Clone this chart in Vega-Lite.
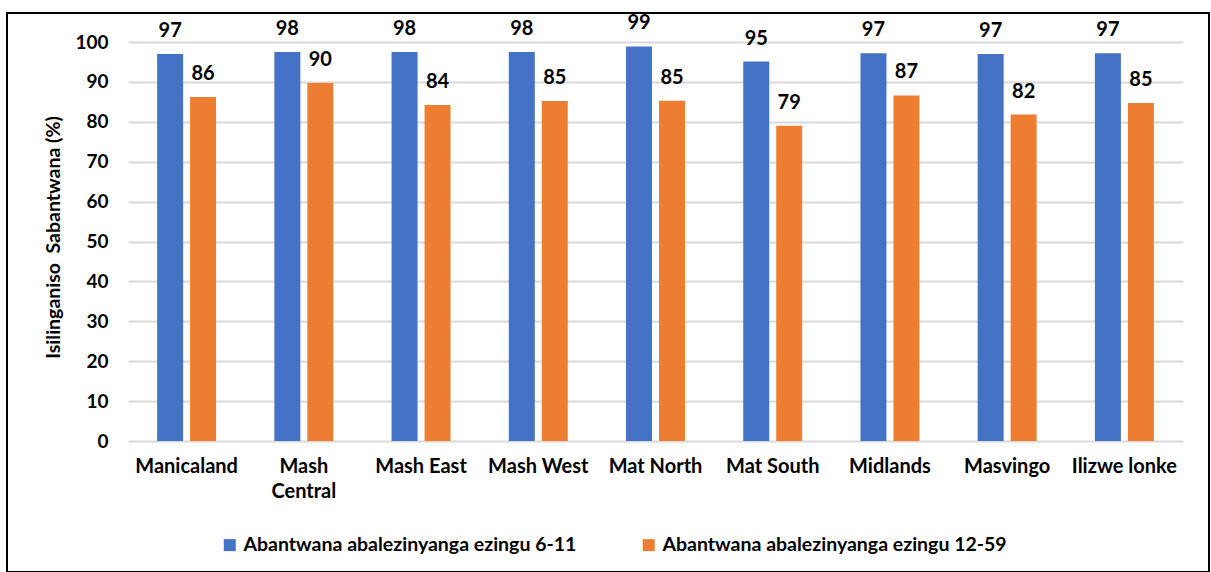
{
  "$schema": "https://vega.github.io/schema/vega-lite/v6.json",
  "autosize": "none",
  "width": 1202,
  "height": 559,
  "padding": {"left": 7, "top": 13, "right": 2, "bottom": 0},
  "background": "white",
  "config": {
    "view": {"stroke": "#000000", "strokeWidth": 2},
    "font": "Lato"
  },
  "data": {
    "values": [
      {"region": "Manicaland", "group": "Abantwana abalezinyanga ezingu 6-11", "value": 97.0},
      {"region": "Manicaland", "group": "Abantwana abalezinyanga ezingu 12-59", "value": 86.2},
      {"region": "Mash Central", "group": "Abantwana abalezinyanga ezingu 6-11", "value": 97.5},
      {"region": "Mash Central", "group": "Abantwana abalezinyanga ezingu 12-59", "value": 89.7},
      {"region": "Mash East", "group": "Abantwana abalezinyanga ezingu 6-11", "value": 97.5},
      {"region": "Mash East", "group": "Abantwana abalezinyanga ezingu 12-59", "value": 84.2},
      {"region": "Mash West", "group": "Abantwana abalezinyanga ezingu 6-11", "value": 97.5},
      {"region": "Mash West", "group": "Abantwana abalezinyanga ezingu 12-59", "value": 85.2},
      {"region": "Mat North", "group": "Abantwana abalezinyanga ezingu 6-11", "value": 98.9},
      {"region": "Mat North", "group": "Abantwana abalezinyanga ezingu 12-59", "value": 85.3},
      {"region": "Mat South", "group": "Abantwana abalezinyanga ezingu 6-11", "value": 95.1},
      {"region": "Mat South", "group": "Abantwana abalezinyanga ezingu 12-59", "value": 79.0},
      {"region": "Midlands", "group": "Abantwana abalezinyanga ezingu 6-11", "value": 97.2},
      {"region": "Midlands", "group": "Abantwana abalezinyanga ezingu 12-59", "value": 86.6},
      {"region": "Masvingo", "group": "Abantwana abalezinyanga ezingu 6-11", "value": 97.0},
      {"region": "Masvingo", "group": "Abantwana abalezinyanga ezingu 12-59", "value": 81.8},
      {"region": "Ilizwe lonke", "group": "Abantwana abalezinyanga ezingu 6-11", "value": 97.2},
      {"region": "Ilizwe lonke", "group": "Abantwana abalezinyanga ezingu 12-59", "value": 84.7}
    ]
  },
  "encoding": {
    "x": {
      "field": "region",
      "type": "nominal",
      "sort": null,
      "scale": {"range": [121, 1176], "paddingInner": 0.497, "paddingOuter": 0.2485},
      "axis": {
        "title": null,
        "orient": "bottom",
        "offset": -131,
        "domain": false,
        "ticks": false,
        "labelAngle": 0,
        "labelPadding": 15,
        "labelFont": "Lato",
        "labelFontWeight": "bold",
        "labelFontSize": 20,
        "labelColor": "#000000",
        "labelLineHeight": 25,
        "labelBaseline": "top",
        "labelExpr": "datum.label == 'Mash Central' ? ['Mash', 'Central'] : datum.label"
      }
    },
    "xOffset": {
      "field": "group",
      "type": "nominal",
      "scale": {"domain": ["Abantwana abalezinyanga ezingu 6-11", "Abantwana abalezinyanga ezingu 12-59"], "paddingInner": 0.212, "paddingOuter": 0}
    },
    "y": {
      "field": "value",
      "type": "quantitative",
      "scale": {"domain": [0, 100], "range": [428, 29], "nice": false},
      "axis": {
        "title": "Isilinganiso\u00a0\u00a0Sabantwana (%)",
        "titleFont": "Lato",
        "titleFontWeight": "bold",
        "titleFontSize": 19.5,
        "titleColor": "#000000",
        "titlePadding": 11,
        "titleY": 224,
        "offset": -101,
        "values": [0, 10, 20, 30, 40, 50, 60, 70, 80, 90, 100],
        "domain": false,
        "ticks": false,
        "labelPadding": 0,
        "labelFont": "Lato",
        "labelFontWeight": "bold",
        "labelFontSize": 19,
        "labelColor": "#000000",
        "grid": true,
        "gridColor": "#D9D9D9",
        "gridWidth": 2
      }
    }
  },
  "layer": [
    {
      "mark": {"type": "bar"},
      "encoding": {
        "color": {
          "field": "group",
          "type": "nominal",
          "scale": {
            "domain": ["Abantwana abalezinyanga ezingu 6-11", "Abantwana abalezinyanga ezingu 12-59"],
            "range": ["#4472C4", "#ED7D31"]
          },
          "legend": {
            "title": null,
            "orient": "none",
            "legendX": 213,
            "legendY": 522,
            "direction": "horizontal",
            "columns": 2,
            "columnPadding": 62,
            "symbolType": "square",
            "symbolSize": 144,
            "symbolStrokeWidth": 0,
            "labelOffset": 4,
            "labelFont": "Lato",
            "labelFontWeight": "bold",
            "labelFontSize": 19.5,
            "labelColor": "#000000",
            "labelLimit": 600
          }
        }
      }
    },
    {
      "mark": {"type": "text", "baseline": "alphabetic", "dy": -17, "font": "Lato", "fontWeight": "bold", "fontSize": 20, "color": "#000000"},
      "encoding": {
        "text": {"field": "value", "type": "quantitative", "format": ".0f"}
      }
    }
  ]
}
